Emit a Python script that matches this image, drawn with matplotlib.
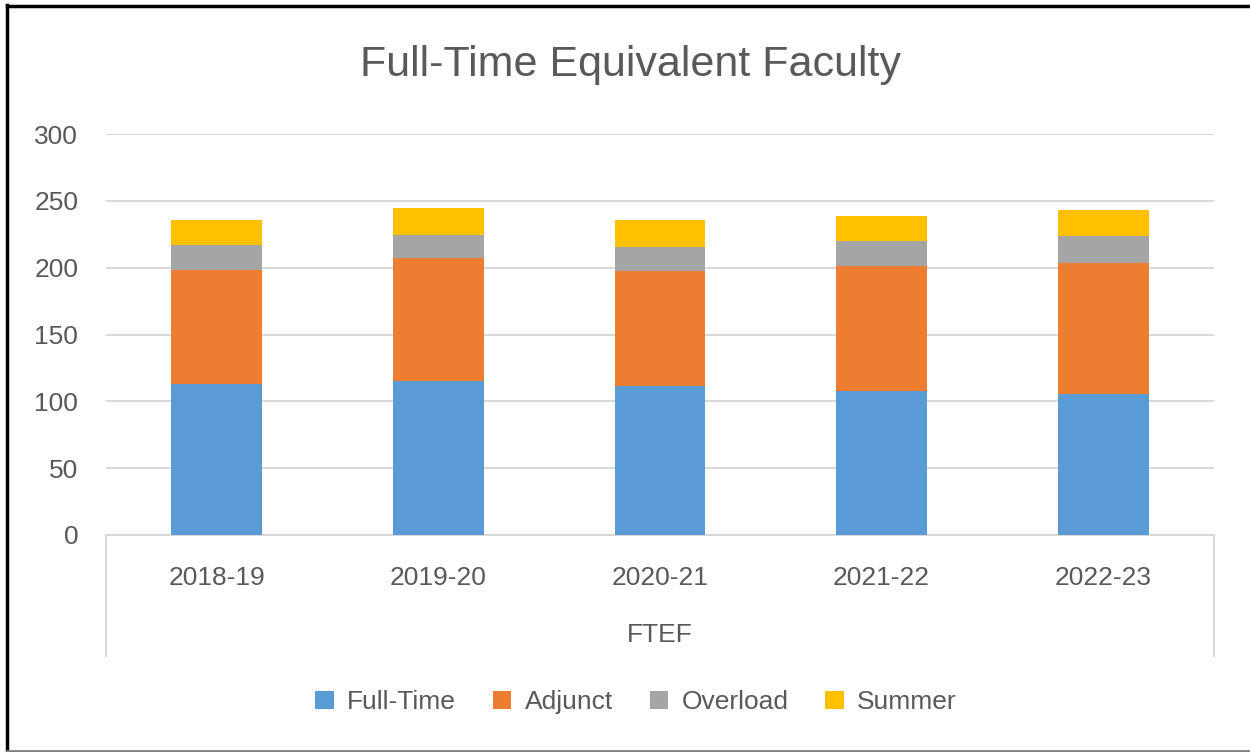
import numpy as np
import matplotlib.pyplot as plt
from matplotlib.lines import Line2D

years = ["2018-19", "2019-20", "2020-21", "2021-22", "2022-23"]
full_time = [112.8, 115.3, 111.5, 107.8, 105.5]
adjunct = [85.6, 91.8, 85.9, 93.3, 98.1]
overload = [18.7, 17.5, 18.2, 18.7, 20.0]
summer = [18.7, 19.9, 20.2, 18.7, 19.7]

series = [("Full-Time", full_time, "#5b9bd5"),
          ("Adjunct", adjunct, "#ed7d31"),
          ("Overload", overload, "#a5a5a5"),
          ("Summer", summer, "#ffc000")]

txt = "#595959"
grid = "#d9d9d9"
plt.rcParams['font.family'] = ['Liberation Sans', 'DejaVu Sans']

fig = plt.figure(figsize=(12.5, 7.52), dpi=100)
ax = fig.add_axes([106/1250, 1-535/752, 1108/1250, 401/752])

x = np.arange(len(years))
bottom = np.zeros(len(years))
for name, vals, col in series:
    ax.bar(x, vals, width=0.41, bottom=bottom, color=col, label=name, zorder=3)
    bottom += np.array(vals)

ax.set_xlim(-0.5, len(years) - 0.5)
ax.set_ylim(0, 300)
ax.set_yticks(range(0, 301, 50))
ax.yaxis.grid(True, color=grid, linewidth=1.5, zorder=0)
ax.set_xticks(x)
ax.set_xticklabels(years)
ax.tick_params(axis='y', length=0, pad=20, labelsize=19, labelcolor=txt)
ax.tick_params(axis='x', length=0, pad=22, labelsize=19, labelcolor=txt)
for s in ["left", "right", "top"]:
    ax.spines[s].set_visible(False)
ax.spines["bottom"].set_color(grid)
ax.spines["bottom"].set_linewidth(1.5)

# category group box below the axis
for xx in [0, 1]:
    ax.plot([xx, xx], [0, -0.302], transform=ax.transAxes, color=grid,
            linewidth=1.5, clip_on=False)
ax.text(0.5, -0.249, "FTEF", transform=ax.transAxes, ha="center", va="center",
        fontsize=19, color=txt)

fig.suptitle("Full-Time Equivalent Faculty", x=630/1250, y=1-65/752, va="center",
             fontsize=31, color=txt)

fig.legend(loc="center", bbox_to_anchor=(636/1250, 1-702/752), ncol=4, frameon=False,
           fontsize=19, labelcolor=txt, handlelength=0.7, handleheight=0.7,
           handletextpad=0.5, columnspacing=1.4)

# outer frame (left and top dark, bottom grey)
fig.add_artist(Line2D([7/1250, 7/1250], [0, 1-5/752], transform=fig.transFigure,
                      color="black", linewidth=2.5))
fig.add_artist(Line2D([7/1250, 1], [1-5.5/752, 1-5.5/752], transform=fig.transFigure,
                      color="black", linewidth=2.5))
fig.add_artist(Line2D([7/1250, 1], [1.5/752, 1.5/752], transform=fig.transFigure,
                      color="#7f7f7f", linewidth=2))

fig.savefig("out.png", dpi=100)
